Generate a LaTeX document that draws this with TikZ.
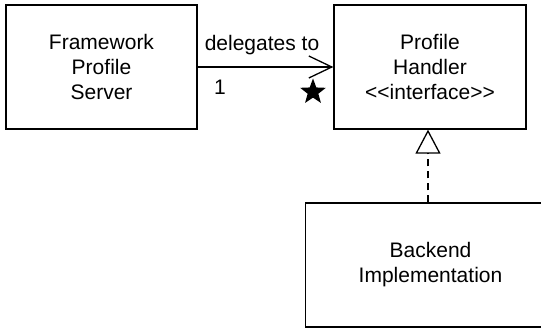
\documentclass[tikz,border=0pt]{standalone}
\usepackage{fontspec}
\setmainfont{Liberation Sans}
\usetikzlibrary{arrows.meta,shapes.geometric}
\begin{document}
\begin{tikzpicture}[x=1pt,y=-1pt,
  box/.style={draw, line width=1.3pt, inner sep=0pt, align=center,
    font=\fontsize{21}{25}\selectfont},
  lbl/.style={inner sep=0pt, font=\fontsize{21}{25}\selectfont},
  assoc/.style={line width=1.3pt, -{Straight Barb[length=23pt,width=22pt,line width=1.3pt]}},
  realize/.style={line width=1.3pt, dashed, dash pattern=on 7pt off 5pt,
    -{Triangle[open,length=24pt,width=25pt,line width=1.3pt,fill=white]}}]
\clip (0,0) rectangle (541,328);
\fill[white] (0,0) rectangle (541,328);
\node[box, minimum width=191pt, minimum height=124pt] (fps) at (101.5,67) {Framework\\Profile\\Server};
\node[box, minimum width=192pt, minimum height=124pt] (ph) at (430,67) {Profile\\Handler\\{<}{<}interface{>}{>}};
\node[box, minimum width=250pt, minimum height=124pt] (bi) at (430.5,265) {Backend\\Implementation};
\draw[assoc] (fps.east) -- (ph.west);
\node[lbl] (dl) at (262,45) {delegates to};
\node[lbl] (one) at (220,87) {1};
\node[star, star points=5, star point ratio=2.4, fill=black, draw=none, minimum size=27pt, inner sep=0pt] (mult) at (313,92) {};
\draw[realize] (bi.north -| 428,0) -- (ph.south -| 428,0);
\end{tikzpicture}
\end{document}
